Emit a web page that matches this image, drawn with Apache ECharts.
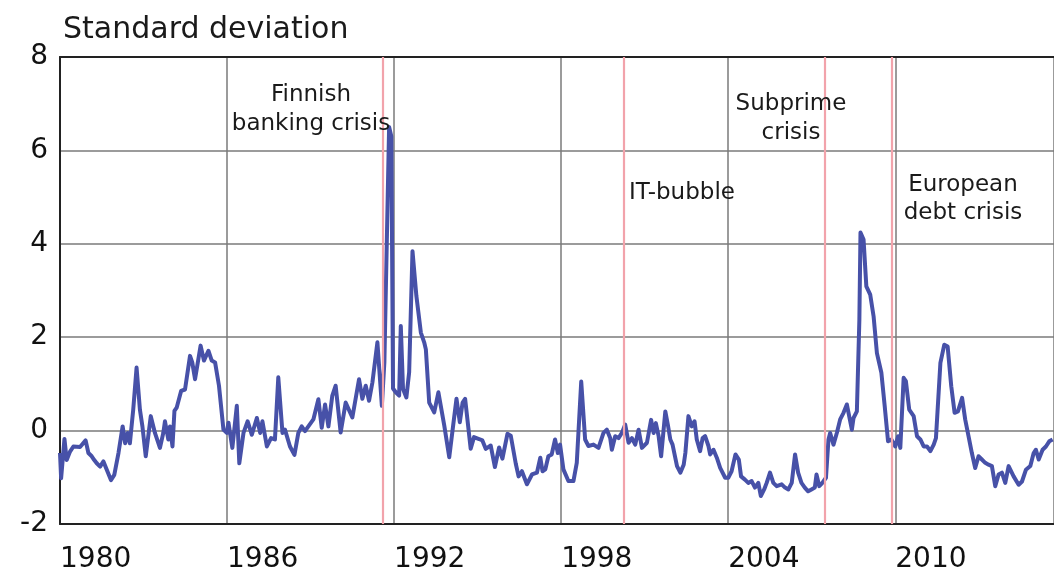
<!DOCTYPE html>
<html>
<head>
<meta charset="utf-8">
<script src="https://cdn.jsdelivr.net/npm/echarts@6/dist/echarts.min.js"></script>
<style>
html,body{margin:0;padding:0;background:#fff;}
#chart{width:1054px;height:577px;}
</style>
</head>
<body>
<div id="chart"></div>
<script>
var years = [
1980.00,1980.04,1980.16,1980.24,1980.36,1980.48,1980.72,1980.92,1981.02,1981.14,1981.23,1981.32,1981.44,1981.56,1981.68,1981.83,1981.95,
1982.10,1982.25,1982.34,1982.43,1982.51,1982.63,1982.75,1982.87,1982.96,1983.08,1983.26,1983.41,1983.59,1983.71,1983.77,1983.89,1983.95,
1984.04,1984.11,1984.19,1984.35,1984.49,1984.67,1984.75,1984.85,1985.05,1985.17,1985.33,1985.45,1985.57,1985.71,1985.87,1985.99,
1986.05,1986.19,1986.35,1986.44,1986.59,1986.74,1986.89,1987.07,1987.19,1987.27,1987.43,1987.58,1987.72,1987.84,1987.99,
1988.08,1988.26,1988.42,1988.56,1988.68,1988.80,1988.92,1989.10,1989.28,1989.40,1989.52,1989.64,
1989.78,1989.90,1990.08,1990.26,1990.50,1990.74,1990.86,1990.98,1991.10,1991.22,1991.40,1991.56,1991.65,1991.72,1991.82,1991.90,1991.96,
1992.06,1992.18,1992.24,1992.32,1992.44,1992.54,1992.66,1992.80,1992.96,1993.08,1993.14,1993.26,1993.44,1993.59,1993.80,1993.98,
1994.12,1994.24,1994.36,1994.46,1994.55,1994.75,1994.87,1995.05,1995.17,1995.29,1995.47,1995.62,1995.77,1995.89,1996.07,1996.19,1996.37,
1996.47,1996.59,1996.77,1996.95,1997.13,1997.25,1997.33,1997.43,1997.54,1997.66,1997.78,1997.88,1997.96,
1998.08,1998.26,1998.44,1998.56,1998.72,1998.86,1998.98,1999.16,1999.34,1999.52,1999.64,1999.76,1999.82,1999.94,
2000.06,2000.18,2000.30,2000.42,2000.54,2000.66,2000.78,2000.90,2001.08,2001.23,2001.32,2001.40,2001.50,2001.59,2001.74,2001.83,2001.92,
2002.00,2002.16,2002.28,2002.40,2002.46,2002.57,2002.69,2002.79,2002.87,2002.99,2003.08,2003.17,2003.29,2003.35,2003.47,2003.59,2003.71,2003.89,
2004.00,2004.12,2004.26,2004.38,2004.46,2004.60,2004.72,2004.84,2004.96,2005.08,2005.17,2005.29,2005.38,2005.50,2005.62,2005.74,2005.92,
2006.04,2006.16,2006.28,2006.40,2006.51,2006.63,2006.75,2006.87,2006.99,2007.11,2007.17,2007.27,2007.38,
2007.51,2007.60,2007.66,2007.78,2007.90,2008.02,2008.14,2008.26,2008.44,2008.50,2008.62,2008.71,2008.75,2008.86,2008.96,
2009.10,2009.22,2009.34,2009.50,2009.62,2009.74,2009.86,2010.00,2010.10,2010.18,2010.30,2010.38,2010.50,2010.66,2010.78,2010.90,
2011.02,2011.14,2011.26,2011.38,2011.46,2011.62,2011.76,2011.88,2012.01,2012.13,2012.25,2012.40,2012.51,2012.63,2012.75,2012.87,2012.99,
2013.11,2013.23,2013.35,2013.47,2013.59,2013.71,2013.83,2013.95,2014.07,2014.25,2014.43,2014.55,2014.69,2014.85,2014.97,
2015.05,2015.15,2015.29,2015.41,2015.53,2015.65
];
var values = [
-0.48,-1.02,-0.18,-0.63,-0.45,-0.34,-0.35,-0.21,-0.48,-0.55,-0.63,-0.70,-0.77,-0.66,-0.84,-1.06,-0.95,
-0.48,0.09,-0.27,-0.05,-0.27,0.45,1.35,0.45,0.09,-0.55,0.31,-0.05,-0.37,-0.05,0.20,-0.19,0.09,
-0.34,0.42,0.49,0.85,0.88,1.60,1.46,1.10,1.82,1.50,1.71,1.50,1.46,0.96,0.02,-0.05,
0.17,-0.37,0.53,-0.70,-0.05,0.20,-0.09,0.27,-0.05,0.20,-0.34,-0.16,-0.19,1.14,-0.05,
0.02,-0.34,-0.52,-0.05,0.09,-0.01,0.09,0.24,0.67,0.06,0.56,0.09,
0.75,0.96,-0.04,0.60,0.28,1.10,0.68,0.96,0.64,1.03,1.89,0.53,1.46,1.50,6.50,6.30,0.90,
0.82,0.75,2.24,0.89,0.71,1.25,3.84,2.88,2.10,1.89,1.74,0.60,0.39,0.82,0.11,-0.57,
0.11,0.68,0.18,0.60,0.68,-0.39,-0.14,-0.18,-0.21,-0.39,-0.32,-0.78,-0.36,-0.60,-0.07,-0.11,-0.71,
-0.98,-0.87,-1.15,-0.94,-0.90,-0.58,-0.87,-0.83,-0.55,-0.51,-0.19,-0.48,-0.30,
-0.83,-1.08,-1.08,-0.69,1.05,-0.19,-0.33,-0.30,-0.37,-0.05,0.02,-0.16,-0.41,-0.12,
-0.16,-0.05,0.13,-0.26,-0.16,-0.30,0.02,-0.37,-0.26,0.23,-0.05,0.16,-0.12,-0.55,0.41,0.13,-0.19,
-0.30,-0.76,-0.90,-0.73,-0.48,0.31,0.09,0.20,-0.19,-0.44,-0.16,-0.12,-0.33,-0.51,-0.41,-0.58,-0.80,-1.01,
-1.01,-0.87,-0.51,-0.62,-0.98,-1.05,-1.12,-1.08,-1.22,-1.12,-1.40,-1.26,-1.12,-0.90,-1.12,-1.19,-1.15,
-1.22,-1.26,-1.12,-0.51,-0.90,-1.12,-1.22,-1.30,-1.26,-1.22,-0.94,-1.19,-1.12,
-1.01,-0.19,-0.05,-0.30,-0.05,0.24,0.38,0.56,0.02,0.27,0.41,2.38,4.24,4.09,3.09,
2.91,2.45,1.66,1.24,0.52,-0.23,-0.19,-0.34,-0.12,-0.37,1.13,1.06,0.45,0.31,-0.12,-0.19,
-0.34,-0.34,-0.44,-0.30,-0.16,1.45,1.84,1.80,0.95,0.38,0.41,0.70,0.24,-0.12,-0.48,-0.80,-0.55,
-0.62,-0.69,-0.73,-0.76,-1.19,-0.94,-0.90,-1.12,-0.76,-0.98,-1.16,-1.09,-0.84,-0.76,-0.48,
-0.41,-0.62,-0.41,-0.34,-0.23,-0.19
];
var crisisDates = [1991.6, 2000.25, 2007.46, 2009.88];
var xTicks = [1980, 1986, 1992, 1998, 2004, 2010];
var yTicks = [-2, 0, 2, 4, 6, 8];

var seriesData = years.map(function (y, i) { return [y, values[i]]; });
var FONT = 'DejaVu Sans';

var chart = echarts.init(document.getElementById('chart'));
chart.setOption({
  animation: false,
  backgroundColor: '#ffffff',
  title: {
    text: 'Standard deviation',
    left: 58, top: 10,
    textStyle: { fontSize: 30, fontWeight: 'normal', color: '#1a1a1a', fontFamily: FONT }
  },
  grid: { left: 60, right: 0, top: 57, bottom: 53 },
  xAxis: [{
    type: 'value',
    min: xTicks[0], max: 2015.7, interval: 6,
    axisLine: { show: true, onZero: false, lineStyle: { color: '#222', width: 2 } },
    axisTick: { show: false },
    splitLine: { show: true, lineStyle: { color: '#7a7a7a', width: 1.5 } },
    axisLabel: {
      show: true, align: 'left', margin: 22, fontSize: 28, color: '#111', fontFamily: FONT,
      showMaxLabel: false,
      formatter: function (v) { return xTicks.indexOf(v) >= 0 ? String(v) : ''; }
    }
  }, {
    type: 'value', position: 'top',
    min: xTicks[0], max: 2015.7, interval: 6,
    axisLine: { show: true, onZero: false, lineStyle: { color: '#222', width: 2 } },
    axisTick: { show: false }, axisLabel: { show: false }, splitLine: { show: false }
  }],
  yAxis: {
    type: 'value', min: yTicks[0], max: yTicks[yTicks.length - 1], interval: 2,
    axisLine: { show: true, lineStyle: { color: '#222', width: 2 } },
    axisTick: { show: false },
    splitLine: { show: true, lineStyle: { color: '#7a7a7a', width: 1.5 } },
    axisLabel: { margin: 12, fontSize: 28, color: '#111', fontFamily: FONT }
  },
  series: [{
    type: 'line', data: [], z: 1, silent: true,
    markLine: {
      silent: true, symbol: 'none', animation: false,
      label: { show: false },
      lineStyle: { color: '#f2a3ab', width: 2.2, type: 'solid' },
      data: crisisDates.map(function (d) { return { xAxis: d }; })
    }
  }, {
    type: 'line', data: seriesData, z: 3,
    showSymbol: false, symbol: 'none',
    lineStyle: { color: '#4751a8', width: 4, join: 'round' }
  }],
  graphic: [
    { type: 'text', z: 10, style: { text: 'Finnish\nbanking crisis', x: 311, y: 110, textAlign: 'center', textVerticalAlign: 'middle', font: '23px "DejaVu Sans"', lineHeight: 29, fill: '#1a1a1a' } },
    { type: 'text', z: 10, style: { text: 'IT-bubble', x: 629, y: 193, textAlign: 'left', textVerticalAlign: 'middle', font: '23px "DejaVu Sans"', fill: '#1a1a1a' } },
    { type: 'text', z: 10, style: { text: 'Subprime\ncrisis', x: 791, y: 119, textAlign: 'center', textVerticalAlign: 'middle', font: '23px "DejaVu Sans"', lineHeight: 29, fill: '#1a1a1a' } },
    { type: 'text', z: 10, style: { text: 'European\ndebt crisis', x: 963, y: 199, textAlign: 'center', textVerticalAlign: 'middle', font: '23px "DejaVu Sans"', lineHeight: 28, fill: '#1a1a1a' } }
  ]
});
</script>
</body>
</html>
